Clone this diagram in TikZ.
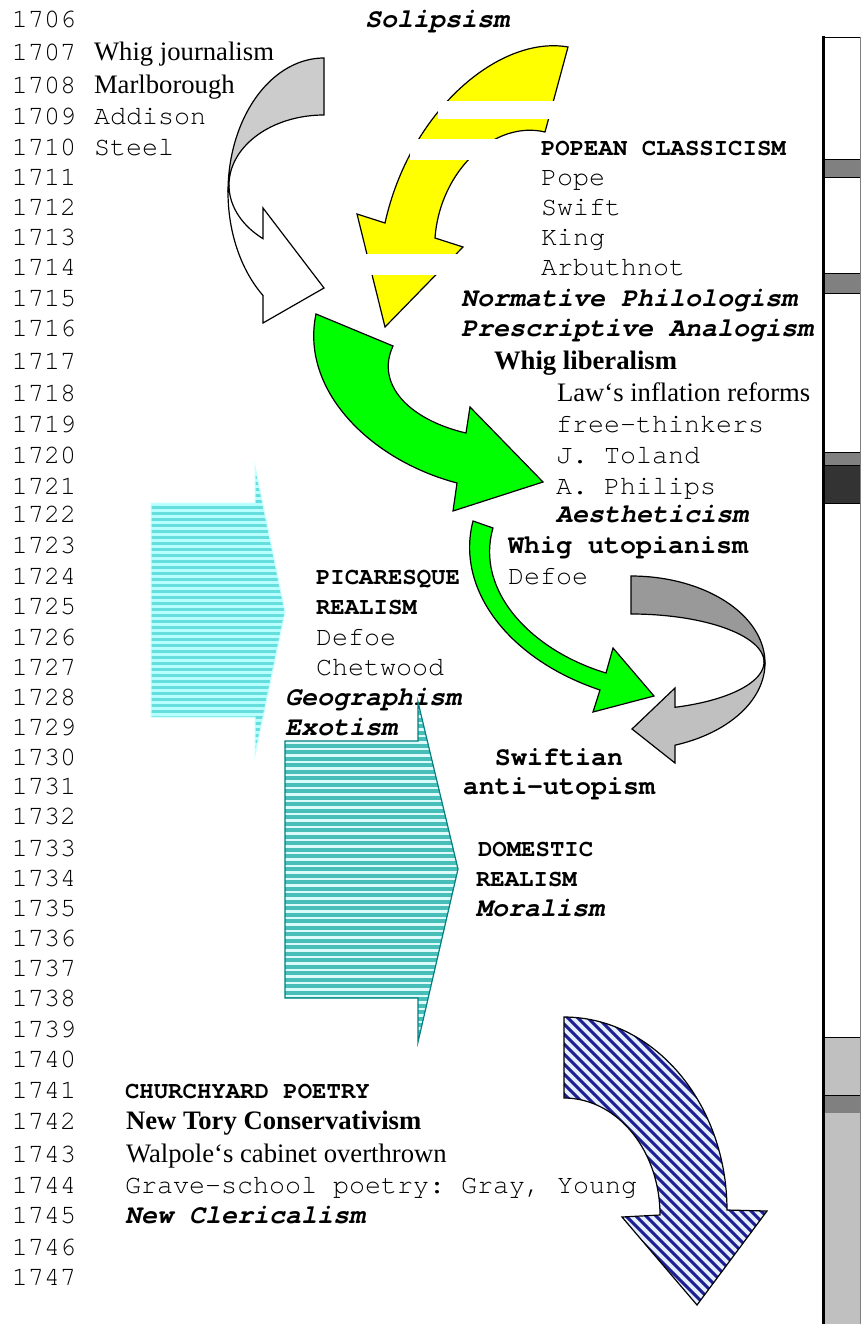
\documentclass[tikz,border=0pt]{standalone}
\usepackage{fontspec}
\setmainfont{Liberation Serif}
\setmonofont{TeX Gyre Cursor}
\definecolor{backA}{HTML}{CCCCCC}
\definecolor{backB}{HTML}{999999}
\definecolor{frontB}{HTML}{C0C0C0}
\definecolor{yel}{HTML}{FFFF00}
\definecolor{grn}{HTML}{00FF00}
\definecolor{cyanLight}{HTML}{B8FFFF}
\definecolor{cyanDark}{HTML}{66DEDE}
\definecolor{cyanEdge}{HTML}{C8FFFF}
\definecolor{tealLight}{HTML}{DDFAFA}
\definecolor{tealDark}{HTML}{48BEB8}
\definecolor{tealEdge}{HTML}{008080}
\definecolor{navy}{HTML}{1E1E94}
\definecolor{paleBlue}{HTML}{E4EEFF}
\definecolor{barMid}{HTML}{808080}
\definecolor{barDark}{HTML}{333333}
\definecolor{barLight}{HTML}{C0C0C0}
\begin{document}
\begin{tikzpicture}[x=1pt,y=-1pt,
  every node/.style={inner sep=0pt, outer sep=0pt, anchor=base west},
  mono/.style={font=\fontsize{26.67}{30}\selectfont\ttfamily},
  monob/.style={font=\fontsize{26.67}{30}\selectfont\ttfamily\bfseries},
  monobi/.style={font=\fontsize{26.67}{30}\selectfont\ttfamily\bfseries\itshape},
  monocap/.style={font=\fontsize{24}{28}\selectfont\ttfamily\bfseries},
  serif/.style={font=\fontsize{26.67}{30}\selectfont\rmfamily},
  serifb/.style={font=\fontsize{26.67}{30}\selectfont\rmfamily\bfseries},
  outl/.style={draw=black, line width=1.2pt, line join=miter},
  band/.style={draw=black, line width=0.8pt},
]
\useasboundingbox (0,0) rectangle (861,1324);

% ---- period bar on the right ----
\fill[white] (823,37) rectangle (860,1330);
\filldraw[band, fill=barMid]   (823,159) rectangle (860,177);
\filldraw[band, fill=barMid]   (823,273) rectangle (860,293);
\filldraw[band, fill=barMid]   (823,452) rectangle (860,465);
\filldraw[band, fill=barDark]  (823,465) rectangle (860,503);
\filldraw[band, fill=barLight] (823,1037) rectangle (860,1095);
\filldraw[band, fill=barMid]   (823,1095) rectangle (860,1113);
\fill[barLight] (823,1113) rectangle (860,1330);
\draw[black, line width=0.8pt] (823,37) -- (860,37);
\draw[barMid, line width=1pt] (860,37) -- (860,1330);
\draw[black, line width=3pt] (823,36) -- (823,1330);

% ---- curved right arrow (journalism) ----
\filldraw[outl, fill=backA]
  plot[domain=270:180, samples=50] ({324+96*cos(\x)},{192+134*sin(\x)})
  -- plot[domain=180:270, samples=50] ({324+95*cos(\x)},{185+70*sin(\x)})
  -- cycle;
\filldraw[outl, fill=white]
  plot[domain=180:130, samples=40] ({324+95*cos(\x)},{185+70*sin(\x)})
  -- (263,208) -- (324,288) -- (263,323) -- (263,295.4)
  -- plot[domain=129.5:180, samples=40] ({324+96*cos(\x)},{192+134*sin(\x)})
  -- cycle;

% ---- yellow curved arrow ----
\filldraw[outl, fill=yel]
  (568,47) .. controls (500,35) and (410,110) .. (385,223)
  -- (357,214) -- (385,327) -- (463,247) -- (435,238)
  .. controls (440,170) and (495,120) .. (545,132) -- cycle;
\fill[white] (438,101) rectangle (572,119);
\fill[white] (410,139) rectangle (540,160);
\fill[white] (360,254) rectangle (468,275);

% ---- green arrows ----
\filldraw[outl, fill=grn]
  (316,314) .. controls (300,390) and (370,460) .. (457,483)
  -- (453,511) -- (543,482) -- (470,407) -- (466,433)
  .. controls (410,420) and (375,385) .. (393,346) -- cycle;
\filldraw[outl, fill=grn]
  (473,521) .. controls (455,590) and (510,660) .. (600,690)
  -- (593,712) -- (654,696) -- (613,648) -- (606,673)
  .. controls (530,650) and (475,590) .. (493,528) -- cycle;

% ---- grey curved left arrow ----
\filldraw[outl, fill=backB]
  plot[domain=-90:0, samples=50] ({631+134*cos(\x)},{663+87*sin(\x)})
  -- plot[domain=0:-90, samples=50] ({631+133*cos(\x)},{662+48*sin(\x)})
  -- cycle;
\filldraw[outl, fill=frontB]
  plot[domain=0:70.7, samples=40] ({631+133*cos(\x)},{662+48*sin(\x)})
  -- (675,688) -- (632,729) -- (675,763) -- (675,745.2)
  -- plot[domain=70.8:0, samples=40] ({631+134*cos(\x)},{663+87*sin(\x)})
  -- cycle;

% ---- striped block arrow (picaresque) ----
\begin{scope}
  \clip (151,503) -- (255,503) -- (255,466) -- (285,612) -- (255,755) -- (255,717) -- (151,717) -- cycle;
  \fill[cyanLight] (140,455) rectangle (300,765);
  \foreach \k in {458,464,...,760} \fill[cyanDark] (140,\k) rectangle (300,\k+3.4);
\end{scope}
\draw[cyanEdge, line width=1pt] (151,503) -- (255,503) -- (255,466) -- (285,612) -- (255,755) -- (255,717) -- (151,717) -- cycle;

% ---- striped curved down arrow (churchyard) ----
\begin{scope}
  \clip plot[domain=270:360, samples=50] ({564+163*cos(\x)},{1210+193*sin(\x)})
    -- (767,1211) -- (697,1305) -- (622,1217) -- (660,1215)
    -- plot[domain=0:-90, samples=50] ({564+96*cos(\x)},{1215+117*sin(\x)}) -- cycle;
  \fill[paleBlue] (550,1000) rectangle (780,1320);
  \foreach \k in {200,210,...,790} \draw[navy, line width=3.1pt] (\k,990) -- (\k+340,1330);
\end{scope}
\draw[outl]
  plot[domain=270:360, samples=50] ({564+163*cos(\x)},{1210+193*sin(\x)})
  -- (767,1211) -- (697,1305) -- (622,1217) -- (660,1215)
  -- plot[domain=0:-90, samples=50] ({564+96*cos(\x)},{1215+117*sin(\x)}) -- cycle;

% ---- year column ----
\foreach \yr/\yc in {1706/20,1707/53,1708/86,1709/117,1710/148,1711/178,1712/208,
  1713/238,1714/268,1715/298,1716/328,1717/361,1718/393,1719/424,1720/455,
  1721/486,1722/514,1723/545,1724/576,1725/606,1726/637,1727/667,1728/697,
  1729/727,1730/757,1731/786,1732/816,1733/848,1734/878,1735/908,1736/938,
  1737/968,1738/998,1739/1029,1740/1059,1741/1090,1742/1121,1743/1154,
  1744/1185,1745/1215,1746/1247,1747/1277}
  \node[mono] (yr\yr) at (12,\yc+8) {\yr};

% ---- labels ----
\node[monobi] (solip) at (365,28) {Solipsism};
\node[serif] (whigj) at (94,61) {Whig journalism};
\node[serif] (marl) at (94,94) {Marlborough};
\node[mono] (addi) at (94,125) {Addison};
\node[mono] (steel) at (94,156) {Steel};
\node[monocap] (popean) at (541,156) {POPEAN CLASSICISM};
\node[mono] (pope) at (541,186) {Pope};
\node[mono] (swift) at (541,216) {Swift};
\node[mono] (king) at (541,246) {King};
\node[mono] (arbu) at (541,276) {Arbuthnot};
\node[monobi] (normph) at (461,306) {Normative Philologism};
\node[monobi] (presc) at (461,336) {Prescriptive Analogism};
\node[serifb] (whigl) at (494,369) {Whig liberalism};
\node[serif] (law) at (557,401) {Law‘s inflation reforms};
\node[mono] (free) at (556,432) {free-thinkers};
\node[mono] (toland) at (556,463) {J. Toland};
\node[mono] (philips) at (556,494) {A. Philips};
\node[monobi] (aesth) at (556,522) {Aestheticism};
\node[monob] (whigu) at (508,553) {Whig utopianism};
\node[mono] (defoeA) at (508,584) {Defoe};
\node[monocap] (picar) at (316,584) {PICARESQUE};
\node[monocap] (realA) at (316,614) {REALISM};
\node[mono] (defoeB) at (316,645) {Defoe};
\node[mono] (chet) at (316,675) {Chetwood};
\node[monobi] (geog) at (285,705) {Geographism};
\node[monobi] (exot) at (285,735) {Exotism};
\node[monob, anchor=base] (swiftian) at (559,765) {Swiftian};
\node[monob, anchor=base] (antiu) at (559,794) {anti-utopism};
\node[monocap] (domest) at (478,856) {DOMESTIC};
\node[monocap] (realB) at (476,886) {REALISM};
\node[monobi] (moral) at (476,916) {Moralism};
\node[monocap] (church) at (125,1098) {CHURCHYARD POETRY};
\node[serifb] (newtory) at (126,1129) {New Tory Conservativism};
\node[serif] (walpole) at (126,1162) {Walpole‘s cabinet overthrown};
\node[mono] (grave) at (125,1193) {Grave-school poetry: Gray, Young};
\node[monobi] (cleric) at (125,1223) {New Clericalism};

% ---- striped block arrow (domestic) ----
\begin{scope}
  \clip (285,741) -- (418,741) -- (418,702) -- (458,869) -- (418,1042) -- (418,998) -- (285,998) -- cycle;
  \fill[tealLight] (280,695) rectangle (465,1050);
  \foreach \k in {698,704.5,...,1048} \fill[tealDark] (280,\k) rectangle (465,\k+4);
\end{scope}
\draw[tealEdge, line width=1.2pt, line join=miter] (285,741) -- (418,741) -- (418,702) -- (458,869) -- (418,1042) -- (418,998) -- (285,998) -- cycle;
\end{tikzpicture}
\end{document}
